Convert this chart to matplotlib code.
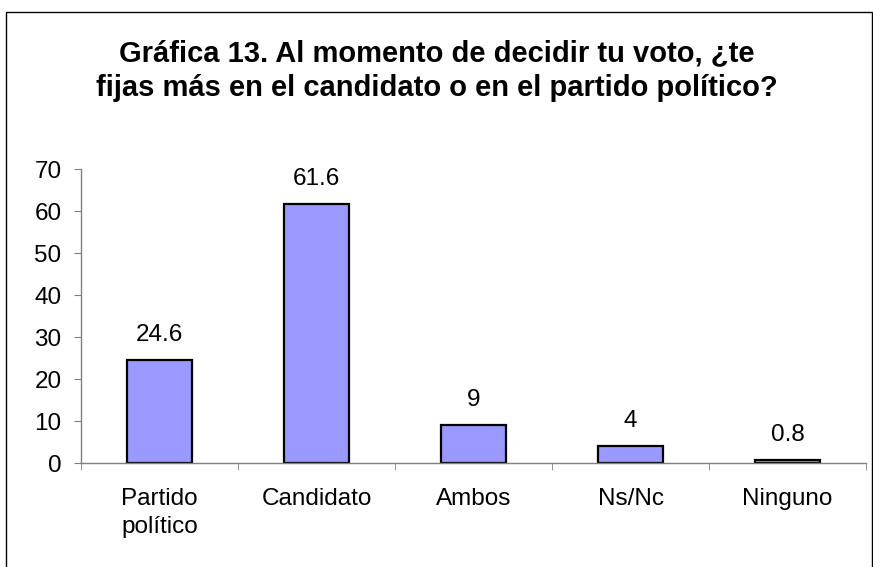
import matplotlib.pyplot as plt
from matplotlib.patches import Rectangle

categories = ["Partido\npolítico", "Candidato", "Ambos", "Ns/Nc", "Ninguno"]
values = [24.6, 61.6, 9, 4, 0.8]
value_labels = ["24.6", "61.6", "9", "4", "0.8"]
yticks = [0, 10, 20, 30, 40, 50, 60, 70]

plt.rcParams['font.family'] = ['Liberation Sans', 'DejaVu Sans']

fig = plt.figure(figsize=(8.73, 5.67), dpi=100)
ax = fig.add_axes([81 / 873, 1 - 463 / 567, 785 / 873, 294 / 567])

x = list(range(len(categories)))
ax.bar(x, values, width=0.41, color="#9999FF", edgecolor="black", linewidth=1.6)

for xi, v, lab in zip(x, values, value_labels):
    ax.annotate(lab, (xi, v), xytext=(0, 10), textcoords="offset points",
                ha="center", va="bottom", fontsize=17.5)

ax.set_xlim(-0.5, len(categories) - 0.5)
ax.set_ylim(0, 70)
ax.set_yticks(yticks)
ax.tick_params(axis="y", labelsize=17.5, length=5, color="#808080", pad=9)

# category labels centred, ticks at the category borders
ax.set_xticks(x)
ax.set_xticklabels(categories, fontsize=17.5, linespacing=1.35, va="top")
ax.tick_params(axis="x", which="major", length=0, pad=18)
ax.set_xticks([i - 0.5 for i in range(len(categories) + 1)], minor=True)
ax.tick_params(axis="x", which="minor", length=5, color="#808080")

for side in ["top", "right"]:
    ax.spines[side].set_visible(False)
for side in ["left", "bottom"]:
    ax.spines[side].set_color("#808080")
    ax.spines[side].set_linewidth(1)

fig.text(0.5, 1 - 71 / 567, "Gráfica 13. Al momento de decidir tu voto, ¿te\nfijas más en el candidato o en el partido político?",
         ha="center", va="center", fontsize=21, fontweight="bold", linespacing=1.3)

fig.patches.append(Rectangle((5.5 / 873, -0.01), 866 / 873, 1.01 - 12.5 / 567,
                             transform=fig.transFigure, fill=False,
                             edgecolor="black", linewidth=1))

fig.savefig("out.png", dpi=100)
